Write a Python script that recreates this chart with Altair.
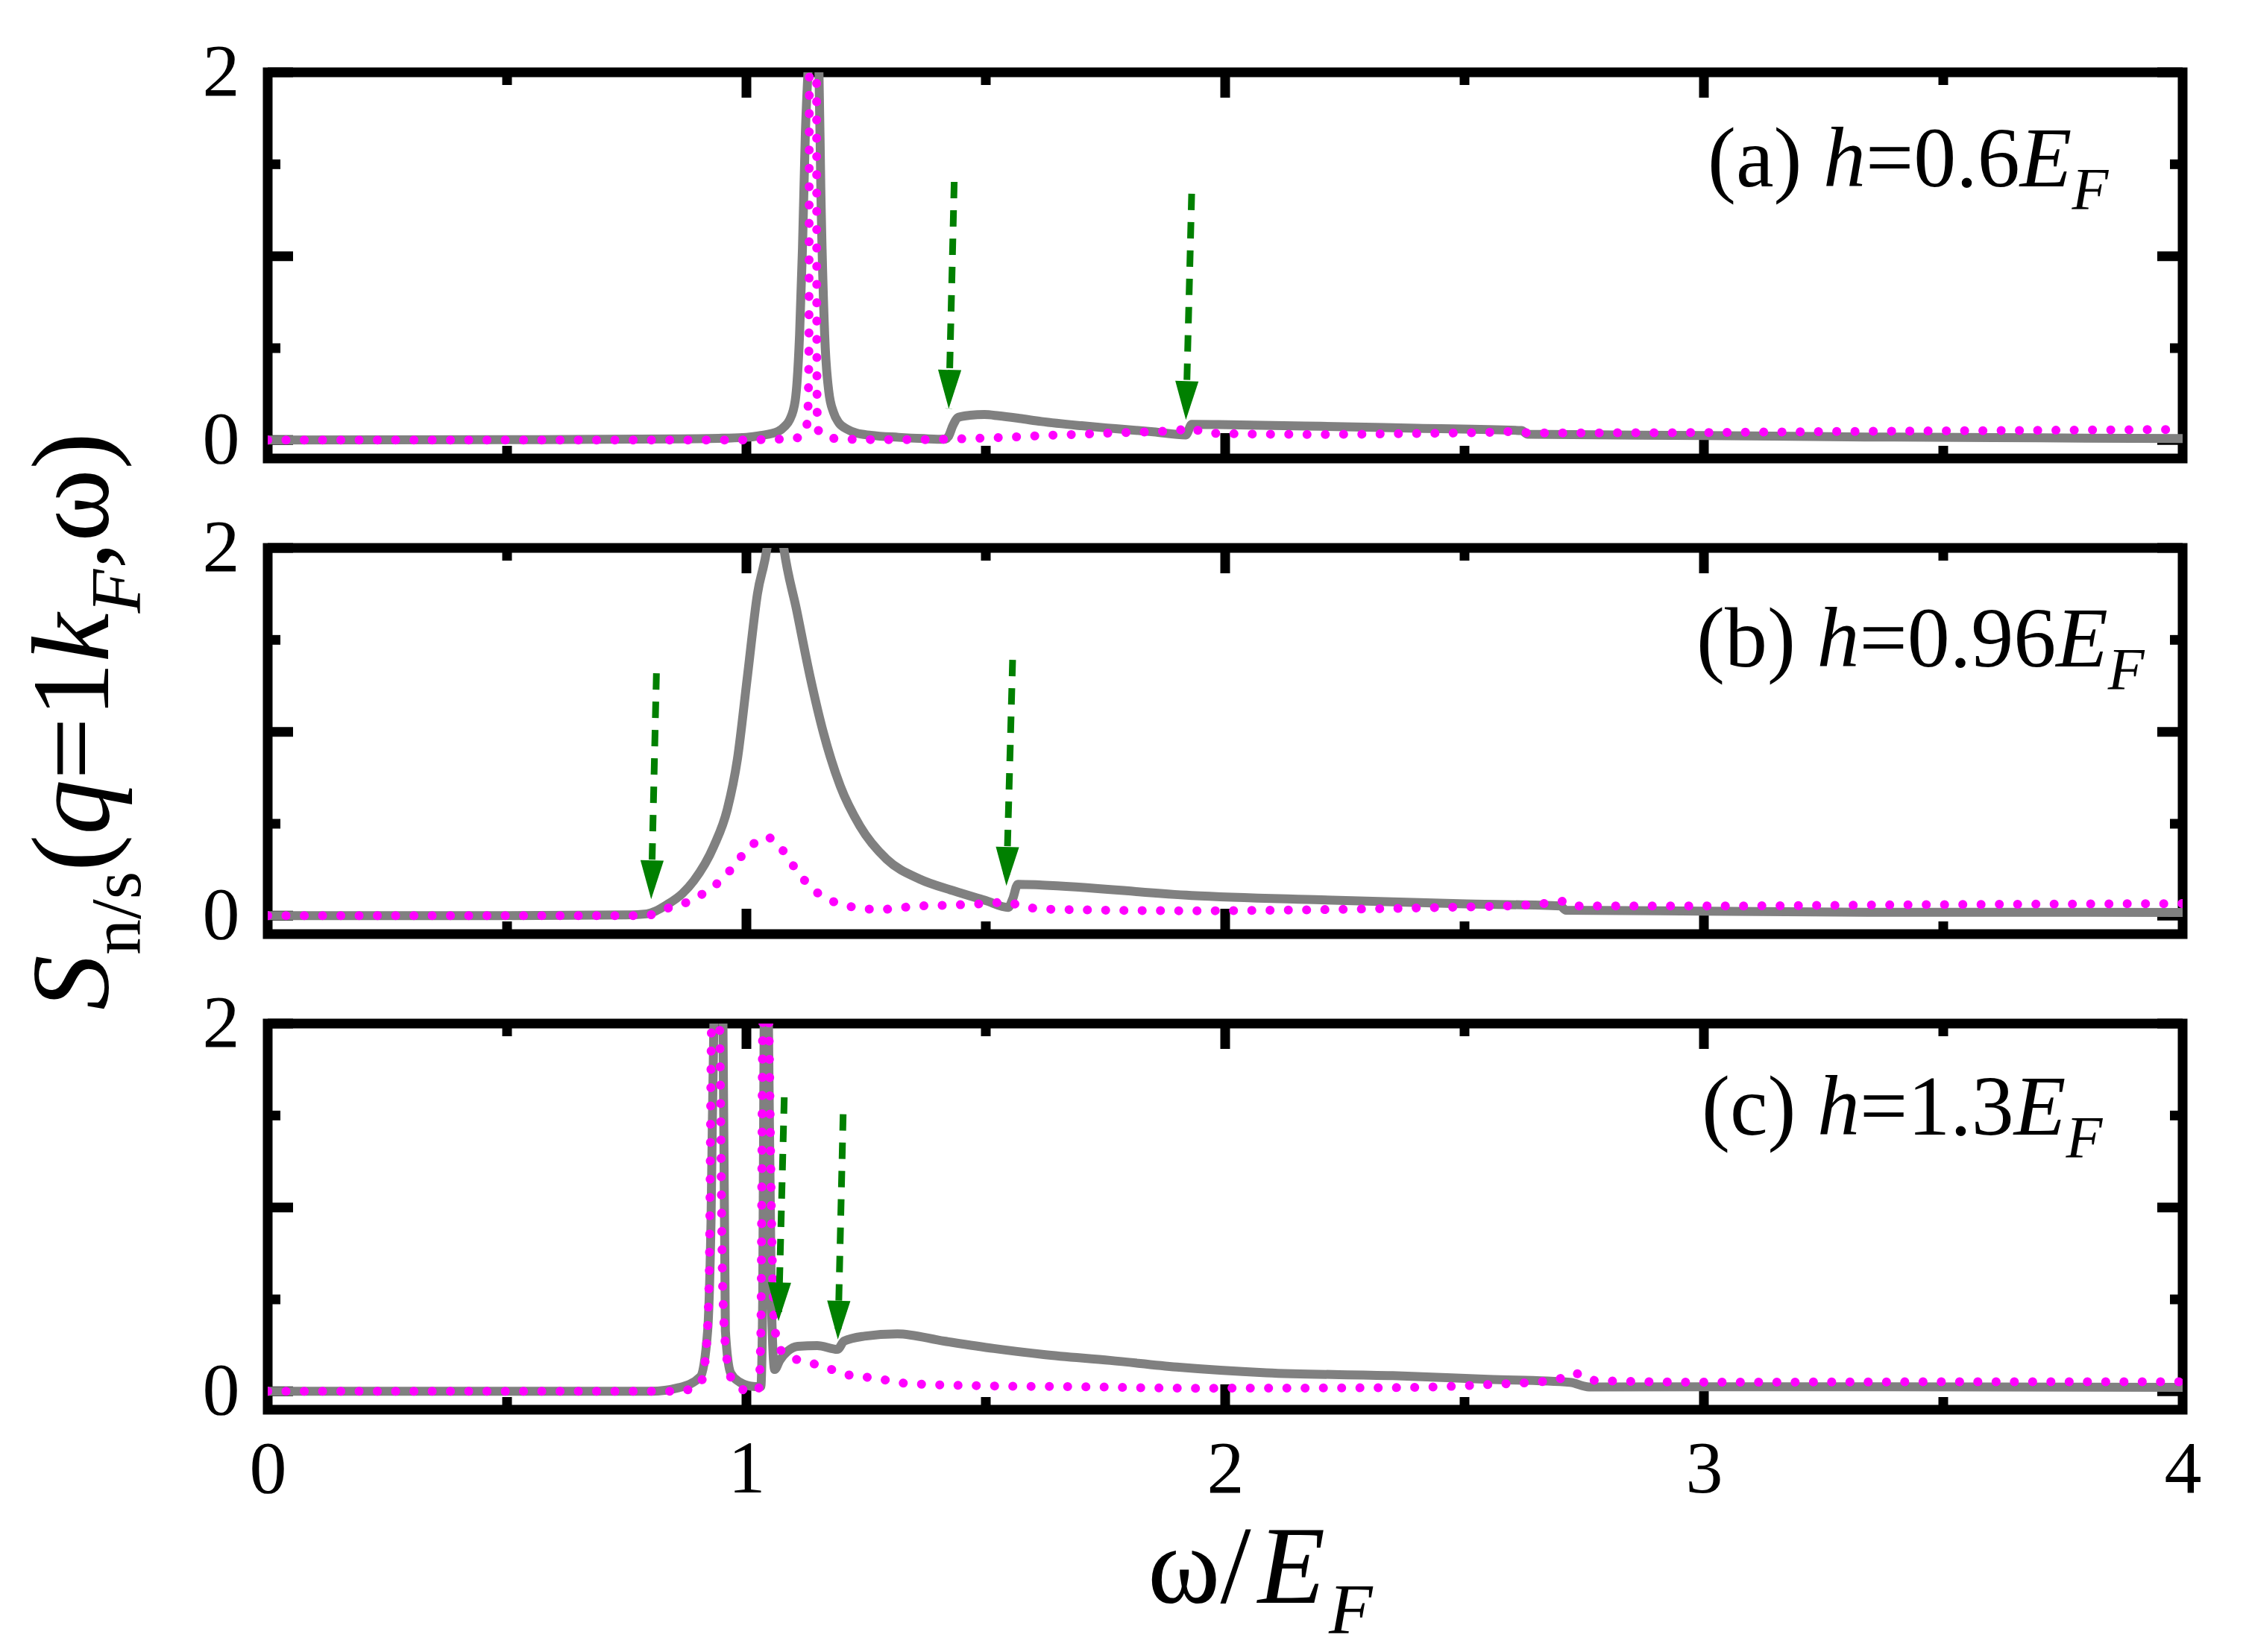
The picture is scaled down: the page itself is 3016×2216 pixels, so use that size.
import math
import altair as alt
import pandas as pd

# ---------------- data ----------------
# panel (a) h = 0.6 E_F
gray_a_x = [0.0, 0.5, 0.85, 0.95, 1.0, 1.03, 1.066, 1.08, 1.09, 1.102, 1.111, 1.117, 1.123, 1.1285, 1.14,
            1.1515, 1.1555, 1.1634, 1.172, 1.182, 1.193, 1.21, 1.229, 1.26, 1.318, 1.37, 1.413, 1.422, 1.431,
            1.443, 1.467, 1.497, 1.527, 1.57, 1.616, 1.70, 1.771, 1.85, 1.918, 1.93, 1.986, 2.2, 2.4, 2.619,
            2.632, 3.0, 3.337, 3.7, 4.0]
gray_a_y = [0.0, 0.002, 0.006, 0.01, 0.015, 0.025, 0.047, 0.075, 0.109, 0.217, 0.574, 1.04, 1.66, 2.0, 2.5,
            2.0, 1.35, 0.574, 0.265, 0.15, 0.094, 0.06, 0.039, 0.026, 0.015, 0.008, 0.004, 0.02, 0.078,
            0.124, 0.135, 0.139, 0.132, 0.118, 0.101, 0.078, 0.062, 0.045, 0.028, 0.085, 0.084, 0.075, 0.064,
            0.052, 0.032, 0.025, 0.017, 0.012, 0.008]
mag_a_x = [0.0, 1.0, 1.05, 1.0975, 1.123, 1.128, 1.1305, 1.1315, 1.139, 1.1465, 1.147, 1.148, 1.150, 1.16,
           1.183, 1.25, 1.35, 1.42, 1.483, 1.55, 1.62, 1.70, 1.77, 1.85, 1.90, 1.93, 1.95, 2.0, 2.2, 2.4,
           2.55, 2.61, 2.635, 2.9, 3.3, 3.7, 4.0]
mag_a_y = [0.0, 0.0, 0.004, 0.008, 0.039, 0.14, 0.5, 2.0, 2.8, 2.0, 0.5, 0.12, 0.054, 0.025,
           0.009, 0.003, 0.002, 0.005, 0.01, 0.016, 0.025, 0.032, 0.039, 0.046, 0.052, 0.07, 0.045, 0.035,
           0.031, 0.036, 0.042, 0.047, 0.039, 0.04, 0.047, 0.053, 0.058]

# panel (b) h = 0.96 E_F
gray_b_x = [0.0, 0.5, 0.75, 0.792, 0.81, 0.834, 0.866, 0.89, 0.932, 0.96, 0.981, 1.002, 1.023, 1.043, 1.06,
            1.078, 1.105, 1.133, 1.161, 1.196, 1.237, 1.293, 1.362, 1.432, 1.501, 1.547, 1.556, 1.567, 1.617,
            1.93, 2.2, 2.49, 2.70, 2.712, 3.0, 3.34, 4.0]
gray_b_y = [0.0, 0.0, 0.004, 0.01, 0.025, 0.06, 0.12, 0.19, 0.379, 0.578, 0.849, 1.30, 1.75, 2.0, 2.4,
            2.0, 1.66, 1.30, 0.993, 0.705, 0.488, 0.307, 0.199, 0.136, 0.081, 0.045, 0.09, 0.171, 0.167,
            0.11, 0.086, 0.065, 0.053, 0.03, 0.025, 0.019, 0.018]
mag_b_x = [0.0, 0.79, 0.829, 0.866, 0.899, 0.929, 0.957, 0.982, 1.007, 1.041, 1.069, 1.091, 1.113, 1.137,
           1.171, 1.208, 1.245, 1.283, 1.319, 1.357, 1.43, 1.51, 1.546, 1.565, 1.584, 1.62, 1.94, 2.2, 2.45,
           2.62, 2.68, 2.71, 2.73, 3.0, 3.47, 4.0]
mag_b_y = [0.0, 0.0, 0.036, 0.063, 0.104, 0.155, 0.219, 0.30, 0.372, 0.428, 0.379, 0.297, 0.219, 0.149,
           0.089, 0.056, 0.038, 0.034, 0.043, 0.052, 0.058, 0.068, 0.075, 0.06, 0.048, 0.036, 0.027, 0.033,
           0.045, 0.057, 0.07, 0.079, 0.053, 0.053, 0.06, 0.066]

# panel (c) h = 1.3 E_F
gray_c_x = [0.0, 0.8, 0.859, 0.904, 0.919, 0.926, 0.932, 0.941, 0.951, 0.956, 0.967, 0.986, 1.01, 1.03,
            1.034, 1.037, 1.041, 1.046, 1.052, 1.059, 1.07, 1.086, 1.107, 1.148, 1.19, 1.204, 1.246, 1.315,
            1.413, 1.517, 1.621, 1.76, 1.899, 2.086, 2.35, 2.55, 2.72, 2.76, 3.34, 4.0]
gray_c_y = [0.0, 0.0, 0.02, 0.08, 0.33, 0.92, 2.0, 2.3, 2.0, 0.33, 0.10, 0.05, 0.028, 0.025,
            0.5, 2.0, 2.6, 2.0, 0.5, 0.119, 0.17, 0.218, 0.245, 0.249, 0.228, 0.273, 0.30, 0.313,
            0.273, 0.233, 0.20, 0.168, 0.132, 0.101, 0.085, 0.065, 0.049, 0.024, 0.025, 0.022]
mag_c_x = [0.0, 0.85, 0.88, 0.905, 0.915, 0.922, 0.927, 0.935, 0.944, 0.95, 0.958, 0.97, 0.985, 1.0, 1.025,
           1.03, 1.034, 1.04, 1.047, 1.052, 1.056, 1.061, 1.068, 1.097, 1.134, 1.171, 1.208, 1.245, 1.283,
           1.32, 1.358, 1.5, 1.7, 1.93, 2.35, 2.56, 2.68, 2.71, 2.73, 2.75, 2.78, 3.0, 3.6, 4.0]
mag_c_y = [0.0, 0.0, 0.01, 0.05, 0.2, 0.6, 2.0, 2.6, 2.0, 0.6, 0.2, 0.06, 0.02, 0.005, 0.005,
           0.3, 2.0, 2.6, 2.0, 1.0, 0.5, 0.31, 0.236, 0.182, 0.155, 0.125, 0.092, 0.079, 0.065,
           0.047, 0.04, 0.03, 0.025, 0.017, 0.02, 0.038, 0.058, 0.078, 0.10, 0.072, 0.058, 0.05, 0.052, 0.052]

# green dashed arrows: panel, start (top) and tip
arrow_panel = ["a", "a", "b", "b", "c", "c"]
arrow_x_top = [1.434, 1.930, 0.812, 1.556, 1.079, 1.202]
arrow_y_top = [1.404, 1.34, 1.318, 1.391, 1.599, 1.507]
arrow_x_tip = [1.4226, 1.918, 0.801, 1.543, 1.067, 1.191]
arrow_y_tip = [0.171, 0.11, 0.09, 0.163, 0.381, 0.282]

# ticks / labels
x_tick_labels = [0, 1, 2, 3, 4]
y_tick_labels = [0, 1, 2]
x_major_ticks = [1, 2, 3]
x_minor_ticks = [0.5, 1.5, 2.5, 3.5]
y_major_ticks = [0, 1, 2]
y_minor_ticks = [0.5, 1.5]

panel_label_text = {"a": ("(a) ", "=0.6"), "b": ("(b) ", "=0.96"), "c": ("(c) ", "=1.3")}

# ---------------- layout / style ----------------
W, H = 2568, 518
XDOM = [0, 4]
YDOM = [-0.1, 2]
SERIF = "Liberation Serif"
GRAY = "#808080"
MAGENTA = "#ff00ff"
GREEN = "#008000"
MAJOR, MINOR, TICKW = 34, 17, 13
FRAMEW = 13
LINEW = 12
LABEL_FS, SUB_FS = 114, 80
TITLE_FS, TITLE_SUB_FS = 148, 96
label_pos = {"a": (1931, 153), "b": (1916, 159), "c": (1923, 149)}

# Times / Liberation Serif advance widths (per 1000 em)
REG = {"(": 333, ")": 333, "a": 444, "b": 500, "c": 444, " ": 250, "=": 564, ".": 250, "/": 278,
       ",": 250, "n": 500, "s": 389, "\u03c9": 686}
for d in "0123456789":
    REG[d] = 500
ITA = {"h": 500, "E": 611, "F": 611, "S": 500, "q": 500, "k": 444}


def width(s, italic, size):
    table = ITA if italic else REG
    return sum(table[ch] for ch in s) * size / 1000.0


ONE = pd.DataFrame({"k": [0]})


def rich_text(pieces, px, py, size, sub_size, sub_shift, angle=0, gap=0):
    """pieces: list of (text, italic, is_sub)"""
    layers = []
    off = 0.0
    for txt, ital, sub in pieces:
        fs = sub_size if sub else size
        layers.append(
            alt.Chart(ONE).mark_text(
                text=txt, font=SERIF, fontSize=fs,
                fontStyle="italic" if ital else "normal",
                align="left", baseline="alphabetic", color="black",
                dx=off, dy=sub_shift if sub else 0, angle=angle,
            ).encode(x=alt.value(px), y=alt.value(py))
        )
        off += width(txt, ital, fs) + gap
    return layers


xs = alt.Scale(domain=XDOM, nice=False, zero=False)
ys = alt.Scale(domain=YDOM, nice=False, zero=False)
XPX = W / (XDOM[1] - XDOM[0])
YPX = H / (YDOM[1] - YDOM[0])


def panel(key, gx, gy, mx, my, show_x, extra=None):
    xaxis = alt.Axis(values=x_tick_labels, ticks=False, domain=False, grid=False,
                     labelFontSize=100, labelFont=SERIF, labelPadding=31, labelFlush=False,
                     labelColor="black", title=None, format="d", labelOverlap=False) if show_x else None
    yaxis = alt.Axis(values=y_tick_labels, ticks=False, domain=False, grid=False,
                     labelFontSize=100, labelFont=SERIF, labelPadding=38, labelFlush=False,
                     labelColor="black", title=None, format="d", labelOverlap=False)

    def X(f):
        return alt.X(f, type="quantitative", scale=xs, axis=xaxis)

    def Y(f):
        return alt.Y(f, type="quantitative", scale=ys, axis=yaxis)

    layers = []
    # inward ticks on all four sides
    tx_maj = pd.DataFrame({"v": x_major_ticks})
    tx_min = pd.DataFrame({"v": x_minor_ticks})
    ty_maj = pd.DataFrame({"v": y_major_ticks})
    ty_min = pd.DataFrame({"v": y_minor_ticks})
    rule = dict(color="black", strokeWidth=TICKW, strokeCap="butt")
    for df, L in ((tx_maj, MAJOR), (tx_min, MINOR)):
        layers.append(alt.Chart(df).mark_rule(**rule).encode(x=X("v"), y=alt.value(H), y2=alt.value(H - L)))
        layers.append(alt.Chart(df).mark_rule(**rule).encode(x=X("v"), y=alt.value(0), y2=alt.value(L)))
    for df, L in ((ty_maj, MAJOR), (ty_min, MINOR)):
        layers.append(alt.Chart(df).mark_rule(**rule).encode(y=Y("v"), x=alt.value(0), x2=alt.value(L)))
        layers.append(alt.Chart(df).mark_rule(**rule).encode(y=Y("v"), x=alt.value(W), x2=alt.value(W - L)))

    gdf = pd.DataFrame({"x": gx, "y": gy})
    mdf = pd.DataFrame({"x": mx, "y": my})
    layers.append(alt.Chart(gdf).mark_line(color=GRAY, strokeWidth=LINEW, strokeJoin="round",
                                           interpolate="monotone", clip=True).encode(x=X("x"), y=Y("y")))
    layers.append(alt.Chart(mdf).mark_line(color=MAGENTA, strokeWidth=LINEW, strokeDash=[0.1, 24.4],
                                           strokeCap="round", interpolate="monotone",
                                           clip=True).encode(x=X("x"), y=Y("y")))

    # arrows
    rows = []
    for p, x0, y0, x1, y1 in zip(arrow_panel, arrow_x_top, arrow_y_top, arrow_x_tip, arrow_y_tip):
        if p != key:
            continue
        ddx = (x1 - x0) * XPX
        ddy = (y0 - y1) * YPX
        ang = math.degrees(math.atan2(-ddx, ddy)) % 360
        rows.append({"x0": x0, "y0": y0, "x1": x1, "y1": y1, "ang": ang})
    adf = pd.DataFrame(rows)
    layers.append(alt.Chart(adf).mark_rule(color=GREEN, strokeWidth=9, strokeDash=[22, 16],
                                           strokeCap="butt").encode(
        x=X("x0"), y=Y("y0"), x2="x1", y2="y1"))
    layers.append(alt.Chart(adf).mark_point(shape="M-0.3,-1L0.3,-1L0,0Z", size=10800, filled=True,
                                            color=GREEN, opacity=1, strokeWidth=0).encode(
        x=X("x1"), y=Y("y1"), angle=alt.Angle("ang", type="quantitative", scale=None)))

    # panel label
    pre, num = panel_label_text[key]
    px, py = label_pos[key]
    layers += rich_text([(pre, False, False), ("h", True, False), (num, False, False),
                         ("E", True, False), ("F", True, True)],
                        px, py, LABEL_FS, SUB_FS, 31)
    if extra:
        layers += extra
    return alt.layer(*layers).properties(width=W, height=H)


ytitle = rich_text([("S", True, False), ("n/s", False, True), ("(", False, False), ("q", True, False),
                    ("=1", False, False), ("k", True, False), ("F", True, True), (",\u03c9)", False, False)],
                   -214, 620, TITLE_FS, TITLE_SUB_FS, 43, angle=270)
xtitle = rich_text([("\u03c9/", False, False), ("E", True, False), ("F", True, True)],
                   1180, 777, TITLE_FS, TITLE_SUB_FS, 41, gap=5)

pa = panel("a", gray_a_x, gray_a_y, mag_a_x, mag_a_y, False)
pb = panel("b", gray_b_x, gray_b_y, mag_b_x, mag_b_y, False, extra=ytitle)
pc = panel("c", gray_c_x, gray_c_y, mag_c_x, mag_c_y, True, extra=xtitle)

chart = alt.vconcat(pa, pb, pc, spacing=120, bounds="flush").properties(
    padding={"left": 12, "top": 32, "right": 10, "bottom": 0},
    background="white",
).configure_view(stroke="black", strokeWidth=FRAMEW)

chart.save("out.html", embed_options={"renderer": "svg", "actions": False})
